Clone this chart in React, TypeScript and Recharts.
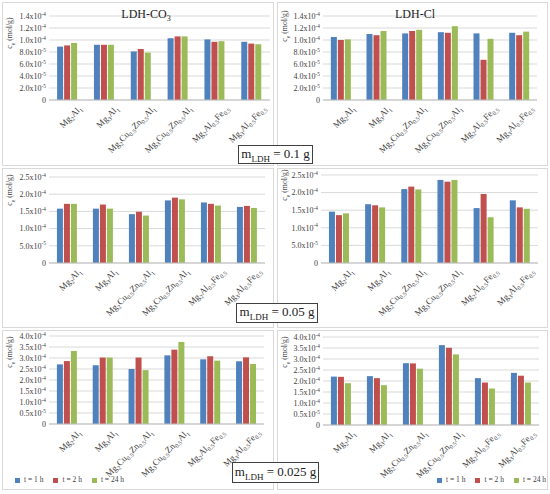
import React from 'react';
import { BarChart, Bar, XAxis, YAxis, CartesianGrid, Legend } from 'recharts';

const FONT = '"Liberation Serif", "Times New Roman", serif';
const TEXT = '#404040';
const COLORS = ['#4F81BD', '#C0504D', '#9BBB59'];

// category names, {..} marks a subscript
const categories = [
  'Mg{2}Al{1}',
  'Mg{3}Al{1}',
  'Mg{2}Cu{0.5}Zn{0.5}Al{1}',
  'Mg{3}Cu{0.5}Zn{0.5}Al{1}',
  'Mg{2}Al{0.5}Fe{0.5}',
  'Mg{3}Al{0.5}Fe{0.5}',
];
const seriesNames = ['t = 1 h', 't = 2 h', 't = 24 h'];

// c_e values, in 1e-4 mol/g
const co3_01_t1 = [0.89, 0.92, 0.81, 1.03, 1.01, 0.97];
const co3_01_t2 = [0.91, 0.92, 0.85, 1.06, 0.97, 0.94];
const co3_01_t24 = [0.95, 0.92, 0.79, 1.06, 0.98, 0.93];
const cl_01_t1 = [1.05, 1.1, 1.11, 1.13, 1.11, 1.12];
const cl_01_t2 = [1.0, 1.08, 1.15, 1.12, 0.67, 1.08];
const cl_01_t24 = [1.01, 1.15, 1.17, 1.23, 1.02, 1.14];
const co3_005_t1 = [1.58, 1.58, 1.42, 1.82, 1.76, 1.63];
const co3_005_t2 = [1.72, 1.7, 1.49, 1.9, 1.72, 1.66];
const co3_005_t24 = [1.72, 1.58, 1.38, 1.85, 1.67, 1.6];
const cl_005_t1 = [1.46, 1.67, 2.1, 2.36, 1.56, 1.78];
const cl_005_t2 = [1.36, 1.64, 2.17, 2.31, 1.96, 1.58];
const cl_005_t24 = [1.41, 1.58, 2.09, 2.36, 1.3, 1.54];
const co3_0025_t1 = [2.71, 2.67, 2.5, 3.12, 2.94, 2.85];
const co3_0025_t2 = [2.86, 3.02, 3.02, 3.38, 3.08, 3.03];
const co3_0025_t24 = [3.32, 3.02, 2.45, 3.73, 2.88, 2.73];
const cl_0025_t1 = [2.2, 2.22, 2.81, 3.63, 2.13, 2.37];
const cl_0025_t2 = [2.19, 2.13, 2.8, 3.51, 1.93, 2.24];
const cl_0025_t24 = [1.9, 1.81, 2.56, 3.21, 1.66, 1.93];

// y ticks and their labels (^ marks the exponent)
const ticks01 = [0, 0.2, 0.4, 0.6, 0.8, 1.0, 1.2, 1.4];
const tickLabels01 = ['0', '2.0x10^-5', '4.0x10^-5', '6.0x10^-5', '8.0x10^-5', '1.0x10^-4', '1.2x10^-4', '1.4x10^-4'];
const ticks005 = [0, 0.5, 1.0, 1.5, 2.0, 2.5];
const tickLabels005 = ['0', '5.0x10^-5', '1.0x10^-4', '1.5x10^-4', '2.0x10^-4', '2.5x10^-4'];
const ticks0025 = [0, 0.5, 1.0, 1.5, 2.0, 2.5, 3.0, 3.5, 4.0];
const tickLabels0025 = ['0', '0.5x10^-5', '1.0x10^-4', '1.5x10^-4', '2.0x10^-4', '2.5x10^-4', '3.0x10^-4', '3.5x10^-4', '4.0x10^-4'];

const makeData = (a: number[], b: number[], c: number[]) =>
  categories.map((name, i) => ({ name, t1: a[i], t2: b[i], t24: c[i] }));

function parseLabel(s: string) {
  const out: { t: string; sub: boolean }[] = [];
  s.split(/(\{[^}]*\})/).forEach((p) => {
    if (!p) return;
    if (p.startsWith('{')) out.push({ t: p.slice(1, -1), sub: true });
    else out.push({ t: p, sub: false });
  });
  return out;
}

function CatTick(props: any) {
  const { x, y, payload } = props;
  const parts = parseLabel(String(payload.value));
  let cur = 0;
  return (
    <text
      transform={`translate(${x + 15},${y + 9}) rotate(-45)`}
      textAnchor="end"
      fill={TEXT}
      style={{ fontFamily: FONT, fontSize: 9 }}
    >
      {parts.map((p, i) => {
        const target = p.sub ? 2.2 : 0;
        const dy = target - cur;
        cur = target;
        return (
          <tspan key={i} dy={dy} style={{ fontSize: p.sub ? 6 : 9 }}>
            {p.t}
          </tspan>
        );
      })}
    </text>
  );
}

const makeYTick = (ticks: number[], labels: string[]) => (props: any) => {
  const { x, y, payload } = props;
  const idx = ticks.findIndex((t) => Math.abs(t - payload.value) < 1e-9);
  const [m, e] = (labels[idx] || '').split('^');
  return (
    <text x={x} y={y} dy={2.8} textAnchor="end" fill={TEXT} style={{ fontFamily: FONT, fontSize: 8 }}>
      {m}
      {e && (
        <tspan dy={-3.2} style={{ fontSize: 5.3 }}>
          {e}
        </tspan>
      )}
    </text>
  );
};

interface PanelProps {
  x: number;
  y: number;
  w: number;
  h: number;
  plot: { l: number; r: number; t: number; b: number };
  data: any[];
  ticks: number[];
  tickLabels: string[];
  axisTitle: { cx: number; cy: number };
  legendPos?: { left: number; top: number };
}

function Panel({ x, y, w, h, plot, data, ticks, tickLabels, axisTitle, legendPos }: PanelProps) {
  const yWidth = 40;
  const margin = {
    top: plot.t - y,
    right: x + w - plot.r,
    bottom: 0,
    left: plot.l - x - yWidth,
  };
  const xHeight = y + h - plot.b;
  return (
    <div
      style={{
        position: 'absolute',
        left: x,
        top: y,
        width: w,
        height: h,
        boxShadow: 'inset 0 0 0 1px #d9d9d9',
      }}
    >
      <BarChart width={w} height={h} data={data} margin={margin} barCategoryGap="22%" barGap={1}>
        <CartesianGrid horizontal vertical={false} stroke="#d9d9d9" />
        <XAxis
          dataKey="name"
          interval={0}
          height={xHeight}
          tickLine={false}
          tickSize={0}
          tickMargin={0}
          axisLine={{ stroke: '#bfbfbf' }}
          tick={CatTick}
        />
        <YAxis
          width={yWidth}
          domain={[0, ticks[ticks.length - 1]]}
          ticks={ticks}
          interval={0}
          axisLine={false}
          tickLine={false}
          tickSize={0}
          tickMargin={3}
          tick={makeYTick(ticks, tickLabels)}
        />
        {legendPos && (
          <Legend
            layout="horizontal"
            verticalAlign="middle"
            align="center"
            iconType="square"
            iconSize={5}
            formatter={(v: string) => <span style={{ color: TEXT }}>{v}</span>}
            wrapperStyle={{
              left: legendPos.left - x,
              top: legendPos.top - y,
              width: 'auto',
              whiteSpace: 'nowrap',
              fontSize: 7.5,
              fontFamily: FONT,
              lineHeight: '10px',
            }}
          />
        )}
        <Bar dataKey="t1" name={seriesNames[0]} fill={COLORS[0]} isAnimationActive={false} />
        <Bar dataKey="t2" name={seriesNames[1]} fill={COLORS[1]} isAnimationActive={false} />
        <Bar dataKey="t24" name={seriesNames[2]} fill={COLORS[2]} isAnimationActive={false} />
      </BarChart>
      <div
        style={{
          position: 'absolute',
          left: axisTitle.cx - x - 30,
          top: axisTitle.cy - y - 6,
          width: 60,
          height: 12,
          lineHeight: '12px',
          transform: 'rotate(-90deg)',
          textAlign: 'center',
          fontFamily: FONT,
          fontSize: 7.8,
          color: TEXT,
          whiteSpace: 'nowrap',
        }}
      >
        c<sub style={{ fontSize: 5.5, lineHeight: 0 }}>e</sub> (mol/g)
      </div>
    </div>
  );
}

function MassBox({ left, top, width, height, text }: { left: number; top: number; width: number; height: number; text: string }) {
  return (
    <div
      style={{
        position: 'absolute',
        left,
        top,
        width,
        height,
        boxSizing: 'border-box',
        border: '1px solid #404040',
        background: '#fff',
        fontFamily: FONT,
        fontSize: 13,
        lineHeight: `${height - 4}px`,
        textAlign: 'center',
        color: '#222',
        whiteSpace: 'nowrap',
      }}
    >
      m<sub style={{ fontSize: 9, lineHeight: 0 }}>LDH</sub> = {text}
    </div>
  );
}

function Title({ cx, top, main, sub }: { cx: number; top: number; main: string; sub?: string }) {
  return (
    <div
      style={{
        position: 'absolute',
        left: cx - 50,
        top,
        width: 100,
        textAlign: 'center',
        fontFamily: FONT,
        fontSize: 12,
        lineHeight: '14px',
        color: '#222',
      }}
    >
      {main}
      {sub && <sub style={{ fontSize: 8, lineHeight: 0 }}>{sub}</sub>}
    </div>
  );
}

export default function App() {
  return (
    <div
      style={{
        position: 'absolute',
        left: 0,
        top: 0,
        width: 550,
        height: 494,
        background: '#fff',
        overflow: 'hidden',
      }}
    >
      <Panel
        x={2} y={2} w={272} h={164}
        plot={{ l: 49, r: 270, t: 16, b: 100 }}
        data={makeData(co3_01_t1, co3_01_t2, co3_01_t24)}
        ticks={ticks01} tickLabels={tickLabels01}
        axisTitle={{ cx: 10, cy: 33 }}
      />
      <Panel
        x={277} y={2} w={271} h={164}
        plot={{ l: 323, r: 537, t: 16, b: 100 }}
        data={makeData(cl_01_t1, cl_01_t2, cl_01_t24)}
        ticks={ticks01} tickLabels={tickLabels01}
        axisTitle={{ cx: 285, cy: 26 }}
      />
      <Panel
        x={2} y={168} w={272} h={160}
        plot={{ l: 49, r: 265, t: 177, b: 263 }}
        data={makeData(co3_005_t1, co3_005_t2, co3_005_t24)}
        ticks={ticks005} tickLabels={tickLabels005}
        axisTitle={{ cx: 10, cy: 190 }}
      />
      <Panel
        x={277} y={168} w={271} h={160}
        plot={{ l: 321, r: 538, t: 175, b: 263 }}
        data={makeData(cl_005_t1, cl_005_t2, cl_005_t24)}
        ticks={ticks005} tickLabels={tickLabels005}
        axisTitle={{ cx: 285, cy: 185 }}
      />
      <Panel
        x={2} y={330} w={272} h={160}
        plot={{ l: 49, r: 264, t: 336, b: 424 }}
        data={makeData(co3_0025_t1, co3_0025_t2, co3_0025_t24)}
        ticks={ticks0025} tickLabels={tickLabels0025}
        axisTitle={{ cx: 10, cy: 352 }}
        legendPos={{ left: 15, top: 475 }}
      />
      <Panel
        x={277} y={330} w={271} h={160}
        plot={{ l: 323, r: 539, t: 337, b: 425 }}
        data={makeData(cl_0025_t1, cl_0025_t2, cl_0025_t24)}
        ticks={ticks0025} tickLabels={tickLabels0025}
        axisTitle={{ cx: 285, cy: 352 }}
        legendPos={{ left: 437, top: 475 }}
      />
      <Title cx={146} top={7} main="LDH-CO" sub="3" />
      <Title cx={415} top={7} main="LDH-Cl" />
      <MassBox left={238} top={145} width={75} height={19} text="0.1 g" />
      <MassBox left={236} top={303} width={82} height={20} text="0.05 g" />
      <MassBox left={232} top={462} width={87} height={21} text="0.025 g" />
    </div>
  );
}
